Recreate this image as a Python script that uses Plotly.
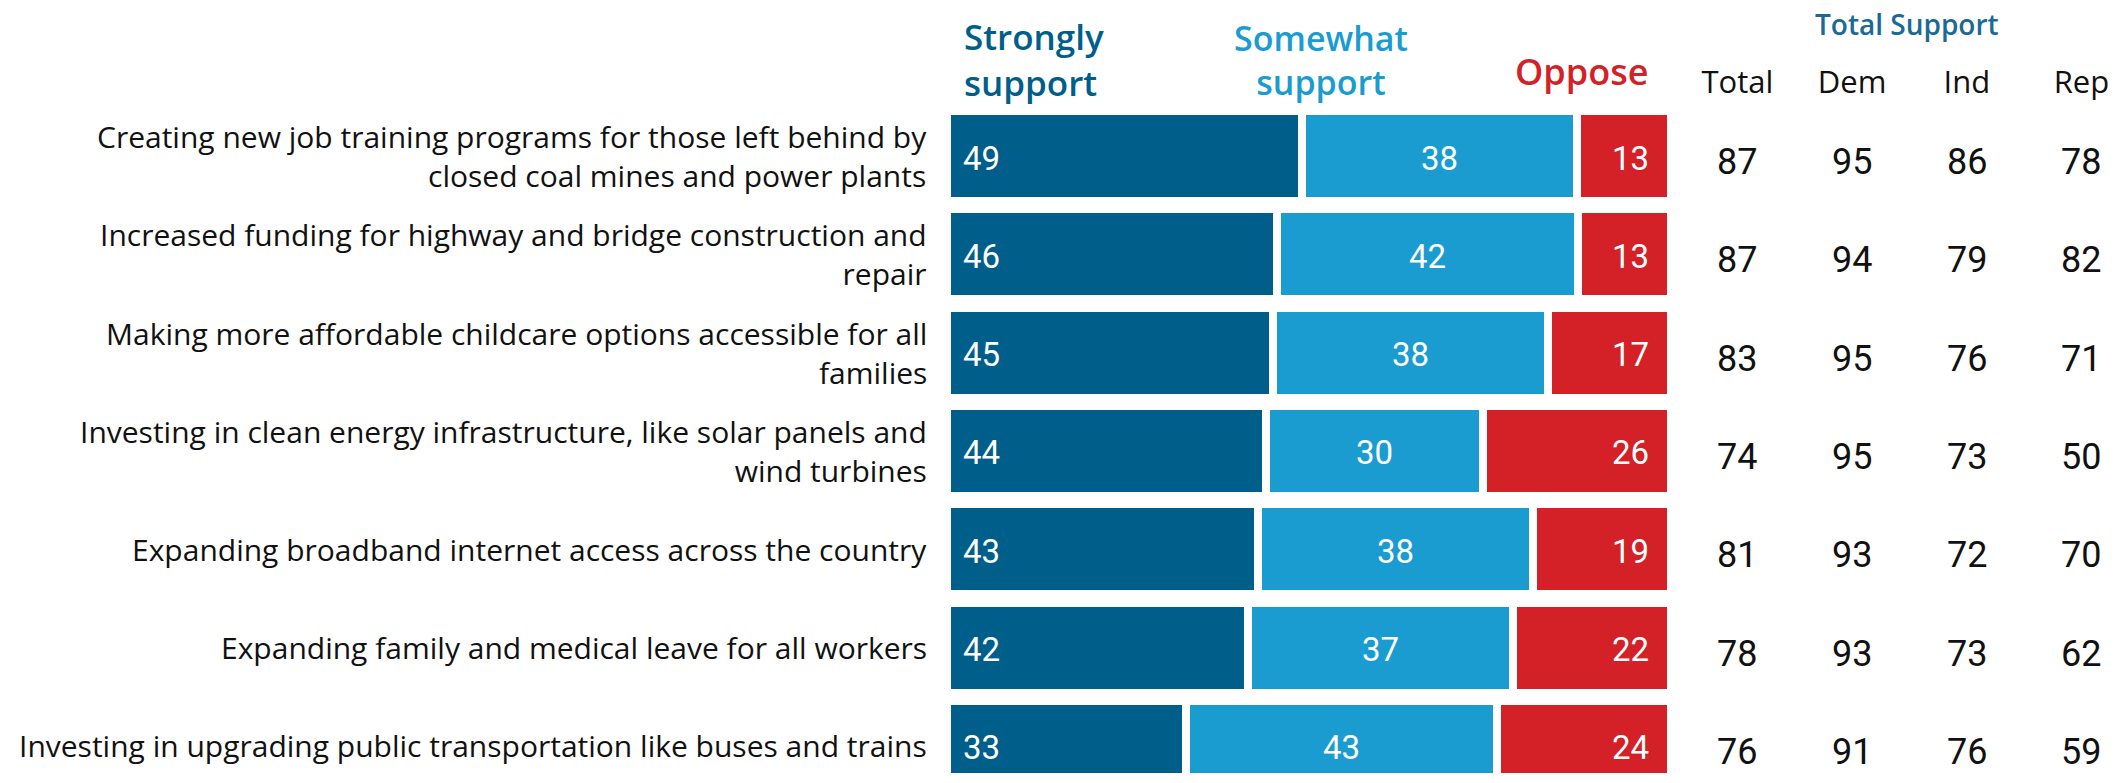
import plotly.graph_objects as go

# ---------------- data ----------------
labels = [
    "Creating new job training programs for those left behind by<br>closed coal mines and power plants",
    "Increased funding for highway and bridge construction and<br>repair",
    "Making more affordable childcare options accessible for all<br>families",
    "Investing in clean energy infrastructure, like solar panels and<br>wind turbines",
    "Expanding broadband internet access across the country",
    "Expanding family and medical leave for all workers",
    "Investing in upgrading public transportation like buses and trains",
]
strongly = [49, 46, 45, 44, 43, 42, 33]
somewhat = [38, 42, 38, 30, 38, 37, 43]
oppose = [13, 13, 17, 26, 19, 22, 24]

table_cols = ["Total", "Dem", "Ind", "Rep"]
total_sup = [87, 87, 83, 74, 81, 78, 76]
dem_sup = [95, 94, 95, 95, 93, 93, 91]
ind_sup = [86, 79, 76, 73, 72, 73, 76]
rep_sup = [78, 82, 71, 50, 70, 62, 59]

series_names = ["Strongly support", "Somewhat support", "Oppose"]

# ---------------- style ----------------
W, H = 2126, 783
FONT = "Open Sans"
NUMFONT = "Roboto"
C_DARK = "#005E8A"
C_LIGHT = "#1A9CD0"
C_RED = "#D42127"
C_TS = "#1B6A95"

# normalise each row so that bars share the same right edge
sums = [a + b + c for a, b, c in zip(strongly, somewhat, oppose)]
s_n = [a / t * 100 for a, t in zip(strongly, sums)]
m_n = [b / t * 100 for b, t in zip(somewhat, sums)]
o_n = [c / t * 100 for c, t in zip(oppose, sums)]

fig = go.Figure()
for name, vals, col in zip(series_names, [s_n, m_n, o_n], [C_DARK, C_LIGHT, C_RED]):
    fig.add_trace(go.Bar(
        y=labels, x=vals, name=name, orientation="h",
        marker=dict(color=col, line=dict(color="white", width=8)),
        width=0.9156, hoverinfo="skip", showlegend=False,
        xaxis="x", yaxis="y",
    ))

# invisible anchor trace so the second x axis (table columns) exists
fig.add_trace(go.Scatter(
    x=table_cols, y=[labels[0]] * len(table_cols), mode="markers",
    marker=dict(size=1, color="rgba(0,0,0,0)"), hoverinfo="skip",
    showlegend=False, xaxis="x2", yaxis="y",
))

annotations = []
for i, lab in enumerate(labels):
    # values inside bars
    annotations.append(dict(x=0, y=i, xref="x", yref="y", text=str(strongly[i]),
                            xanchor="left", yanchor="middle", xshift=14, yshift=-2,
                            showarrow=False,
                            font=dict(family=NUMFONT, size=33, color="white")))
    annotations.append(dict(x=s_n[i] + m_n[i] / 2, y=i, xref="x", yref="y", text=str(somewhat[i]),
                            xanchor="center", yanchor="middle", yshift=-2, showarrow=False,
                            font=dict(family=NUMFONT, size=33, color="white")))
    annotations.append(dict(x=100, y=i, xref="x", yref="y", text=str(oppose[i]),
                            xanchor="right", yanchor="middle", xshift=-20, yshift=-2,
                            showarrow=False,
                            font=dict(family=NUMFONT, size=33, color="white")))
    # category label
    annotations.append(dict(x=929 / W, y=i, xref="paper", yref="y", text=lab,
                            xanchor="right", yanchor="middle", align="right",
                            showarrow=False,
                            font=dict(family=FONT, size=30, color="#111111")))
    # table values
    for col, vals in zip(table_cols, [total_sup, dem_sup, ind_sup, rep_sup]):
        annotations.append(dict(x=col, y=i, xref="x2", yref="y", text=str(vals[i]),
                                xanchor="center", yanchor="middle", yshift=-6,
                                showarrow=False,
                                font=dict(family=NUMFONT, size=36, color="#111111")))


def py(pix):
    # pixel row (from top) -> paper y
    return (773 - pix) / 673


annotations += [
    dict(x=962 / W, y=py(60), xref="paper", yref="paper", text="Strongly<br>support",
         xanchor="left", yanchor="middle", align="left", showarrow=False,
         font=dict(family=FONT, size=35, color=C_DARK, weight=600)),
    dict(x=1321 / W, y=py(60), xref="paper", yref="paper", text="Somewhat<br>support",
         xanchor="center", yanchor="middle", align="center", showarrow=False,
         font=dict(family=FONT, size=34, color=C_LIGHT, weight=600)),
    dict(x=1650 / W, y=py(72), xref="paper", yref="paper", text="Oppose",
         xanchor="right", yanchor="middle", align="right", showarrow=False,
         font=dict(family=FONT, size=36, color=C_RED, weight=600)),
    dict(x=1907 / W, y=py(24), xref="paper", yref="paper", text="Total Support",
         xanchor="center", yanchor="middle", showarrow=False,
         font=dict(family=FONT, size=28, color=C_TS, weight=600)),
]

fig.update_layout(
    width=W, height=H,
    margin=dict(l=0, r=0, t=100, b=10),
    paper_bgcolor="white", plot_bgcolor="white",
    barmode="stack", bargap=0,
    font=dict(family=FONT),
    xaxis=dict(domain=[947 / W, 1671 / W], range=[0, 100], visible=False, fixedrange=True),
    xaxis2=dict(domain=[1680 / W, 1.0], type="category", categoryarray=table_cols,
                categoryorder="array", range=[-0.5, 3.388], side="top", anchor="y",
                showgrid=False, zeroline=False, showline=False, ticks="",
                tickfont=dict(family=FONT, size=31, color="#111111"), ticklabelstandoff=0),
    yaxis=dict(type="category", categoryarray=labels, categoryorder="array",
               range=[6.2767, -0.5697], showticklabels=False, showgrid=False,
               zeroline=False, showline=False, ticks=""),
    annotations=annotations,
)

fig.write_html("out.html")
